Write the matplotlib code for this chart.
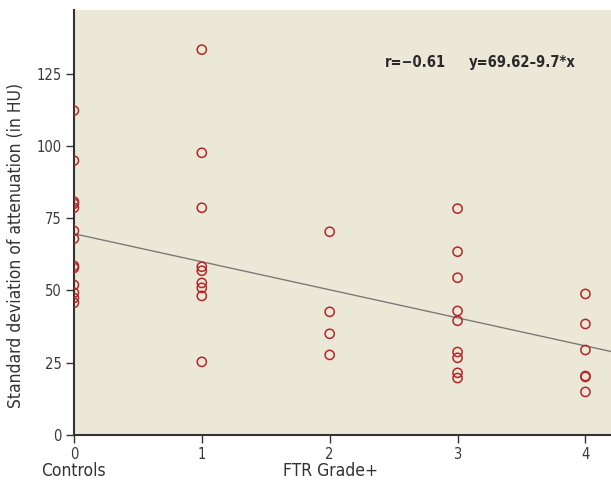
import matplotlib
matplotlib.use("Agg")
import matplotlib.pyplot as plt
import numpy as np

controls = [112.2, 94.9, 80.7, 80.0, 78.6, 70.6, 67.9, 58.5, 57.8, 51.9, 49.2, 47.4, 45.7]
grade1 = [133.3, 97.6, 78.6, 58.2, 56.8, 52.6, 50.9, 48.1, 25.3]
grade2 = [70.3, 42.6, 35.0, 27.7]
grade3 = [78.3, 63.4, 54.4, 42.9, 39.5, 28.7, 26.7, 21.5, 19.7]
grade4 = [48.8, 38.4, 29.4, 20.4, 20.1, 14.9]
groups = [0, 1, 2, 3, 4]
intercept = 69.62
slope = -9.7
yticks = [0, 25, 50, 75, 100, 125]

plt.rcParams['font.family'] = ['DejaVu Sans']
plt.rcParams['font.stretch'] = 'condensed'

fig = plt.figure(figsize=(6.11, 4.83), dpi=100)
ax = fig.add_axes([0.121, 0.0994, 0.879, 0.8799])
ax.set_facecolor('#ece8d7')

for g, vals in zip(groups, [controls, grade1, grade2, grade3, grade4]):
    ax.scatter([g] * len(vals), vals, s=44, facecolors='none',
               edgecolors='#b5262a', linewidths=1.1, zorder=3)

xs = np.array([0, 4.2])
ax.plot(xs, intercept + slope * xs, color='#7a7a7a', lw=1.0, zorder=2)

ax.set_xlim(0, 4.2)
ax.set_ylim(0, 147)
ax.set_xticks(groups)
ax.set_yticks(yticks)
ax.tick_params(axis='both', labelsize=10.5, colors='#333333', labelcolor='#3a3a3a',
               length=6, width=1, pad=3)
for s in ['top', 'right']:
    ax.spines[s].set_visible(False)
for s in ['left', 'bottom']:
    ax.spines[s].set_color('#333333')
    ax.spines[s].set_linewidth(1.5)

ax.set_ylabel('Standard deviation of attenuation (in HU)', fontsize=12.5, color='#333333')
ax.yaxis.set_label_coords(-0.091, 0.445)
fig.text(73 / 611, 1 - 471 / 483, 'Controls', ha='center', va='center', fontsize=12.5, color='#333333')
fig.text(330 / 611, 1 - 471 / 483, 'FTR Grade+', ha='center', va='center', fontsize=12.5, color='#333333')

ax.text(2.43, 128.8, 'r=\u22120.61', fontsize=10.5, fontweight='bold', color='#2a2a2a', va='center')
ax.text(3.086, 128.8, 'y=69.62\u20139.7*x', fontsize=10.5, fontweight='bold', color='#2a2a2a', va='center')

fig.savefig('out.png', dpi=100)
